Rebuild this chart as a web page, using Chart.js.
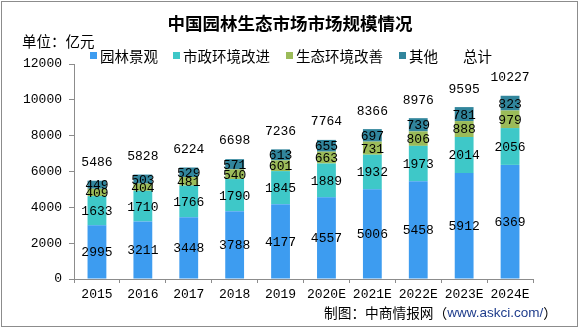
<!DOCTYPE html>
<html>
<head>
<meta charset="utf-8">
<script src="https://cdn.jsdelivr.net/npm/chart.js@4.4.0/dist/chart.umd.min.js"></script>
<style>
  html, body { margin: 0; padding: 0; background: #fff; }
  #wrap { position: absolute; left: 0; top: 0; width: 578px; height: 328px; }
  #frame { position: absolute; left: 1px; top: 1px; width: 575px; height: 324px; border: 1px solid #8c8c8c; pointer-events: none; }
</style>
</head>
<body>
<div id="wrap">
  <canvas id="c" width="578" height="328"></canvas>
  <div id="frame"></div>
</div>
<script>
const years = ['2015', '2016', '2017', '2018', '2019', '2020E', '2021E', '2022E', '2023E', '2024E'];
const landscape = [2995, 3211, 3448, 3788, 4177, 4557, 5006, 5458, 5912, 6369];
const municipal = [1633, 1710, 1766, 1790, 1845, 1889, 1932, 1973, 2014, 2056];
const ecology = [409, 404, 481, 540, 601, 663, 731, 806, 888, 979];
const other = [449, 503, 529, 571, 613, 655, 697, 739, 781, 823];
const totals = [5486, 5828, 6224, 6698, 7236, 7764, 8366, 8976, 9595, 10227];
const yTicks = [0, 2000, 4000, 6000, 8000, 10000, 12000];

const cjk = '"Noto Sans CJK SC", sans-serif';
const mono = '"Liberation Mono", "Courier New", monospace';

// titles, legend, value labels drawn by hand
const decor = {
    id: 'decor',
    afterDatasetsDraw(chart) {
        const ctx = chart.ctx;
        ctx.save();
        ctx.textBaseline = 'middle';

        // segment labels
        ctx.font = '13px ' + mono;
        ctx.fillStyle = '#000';
        ctx.textAlign = 'center';
        chart.data.datasets.forEach((ds, i) => {
            const meta = chart.getDatasetMeta(i);
            meta.data.forEach((bar, j) => {
                const p = bar.getProps(['x', 'y', 'base'], true);
                ctx.fillText(String(ds.data[j]), p.x, (p.y + p.base) / 2 + 1);
            });
        });

        // totals
        const y = chart.scales.y;
        const top = chart.getDatasetMeta(3).data;
        totals.forEach((t, j) => {
            ctx.fillText(String(t), top[j].x, y.getPixelForValue(t) - 18);
        });

        // title
        ctx.textAlign = 'center';
        ctx.font = 'bold 17.5px ' + cjk;
        ctx.fillText('中国园林生态市场市场规模情况', 290, 23);

        ctx.textAlign = 'left';
        ctx.font = '14.5px ' + cjk;
        ctx.fillText('单位：亿元', 22, 41);

        // legend
        const legendX = [90, 173, 286, 399];
        ctx.font = '14.5px ' + cjk;
        chart.data.datasets.forEach((ds, i) => {
            ctx.fillStyle = ds.backgroundColor;
            ctx.fillRect(legendX[i], 52, 7, 7);
            ctx.fillStyle = '#000';
            ctx.fillText(ds.label, legendX[i] + 10, 56);
        });
        ctx.fillText('总计', 463, 56);

        // credit
        ctx.font = '13.7px ' + cjk;
        let cx = 324;
        ctx.fillText('制图：中商情报网（', cx, 313);
        cx += ctx.measureText('制图：中商情报网（').width;
        ctx.font = '13.5px "Liberation Sans", sans-serif';
        ctx.fillStyle = '#1f3d8c';
        ctx.fillText('www.askci.com/', cx, 313);
        cx += ctx.measureText('www.askci.com/').width;
        ctx.font = '13.7px ' + cjk;
        ctx.fillStyle = '#000';
        ctx.fillText('）', cx, 313);
        ctx.restore();
    }
};

new Chart(document.getElementById('c'), {
    type: 'bar',
    data: {
        labels: years,
        datasets: [
            { label: '园林景观', data: landscape, backgroundColor: '#3d9cf0' },
            { label: '市政环境改进', data: municipal, backgroundColor: '#3ec8c8' },
            { label: '生态环境改善', data: ecology, backgroundColor: '#9bbb59' },
            { label: '其他', data: other, backgroundColor: '#31859c' }
        ]
    },
    options: {
        responsive: false,
        animation: false,
        layout: { padding: { left: 0, right: 45, top: 64, bottom: 29 } },
        datasets: { bar: { barPercentage: 0.41, categoryPercentage: 1 } },
        plugins: { legend: { display: false }, tooltip: { enabled: false } },
        scales: {
            x: {
                stacked: true,
                grid: { display: true, drawOnChartArea: false, offset: true, tickLength: 4, color: '#8c8c8c' },
                border: { color: '#8c8c8c' },
                ticks: { color: '#000', font: { family: mono, size: 13 }, padding: 4, maxRotation: 0, autoSkip: false },
                afterFit(s) { s.height = 20; }
            },
            y: {
                stacked: true,
                min: 0,
                max: 12000,
                afterBuildTicks(s) { s.ticks = yTicks.map(v => ({ value: v })); },
                grid: { display: true, drawOnChartArea: false, tickLength: 5, color: '#8c8c8c' },
                border: { color: '#8c8c8c' },
                ticks: { color: '#000', font: { family: mono, size: 13 }, padding: 7, callback: v => String(v) },
                afterFit(s) { s.width = 74; }
            }
        }
    },
    plugins: [decor]
});
</script>
</body>
</html>
